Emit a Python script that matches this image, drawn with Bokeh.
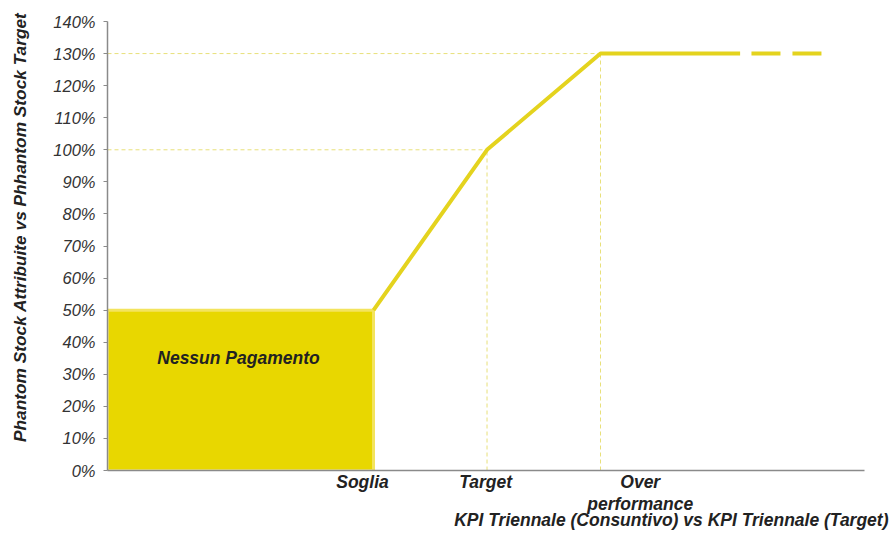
from bokeh.plotting import figure
from bokeh.models import Range1d, FixedTicker, NumeralTickFormatter, Label, Title
from bokeh.embed import file_html
from bokeh.resources import INLINE

# Payout curve: KPI thresholds (x) and phantom stock attributed vs target (y)
threshold_names = ["Soglia", "Target", "Over\nperformance"]
threshold_x = [1.0, 2.0, 3.0]
payout = [0.5, 1.0, 1.3]
# where each threshold name sits under the axis
threshold_label_x = [0.903, 1.987, 3.35]

# Cap plateau continues solid, then dashed
plateau_solid_end = 4.23
plateau_dashed_x = [4.33, 4.97]

# "No payment" zone below the threshold
no_pay_bottom = [0.0]
no_pay_top = [0.5]

y_ticks = [i / 10 for i in range(15)]

X_START, X_END = -1.344, 5.326
Y_START, Y_END = 0.0, 1.4

FONT = "Liberation Sans"
YELLOW_FILL = "#E8D700"
YELLOW_EDGE = "#F3E45E"
YELLOW_LINE = "#E4D31E"
GUIDE = "#E8E07A"
GRAY = "#8a8a8a"
DARK = "#222222"
LABEL_SIZE = "17.5px"

p = figure(width=892, height=538, output_backend="svg", toolbar_location=None,
           x_range=Range1d(X_START, X_END), y_range=Range1d(Y_START, Y_END),
           min_border_left=107, min_border_right=28, min_border_top=21,
           min_border_bottom=68)
p.outline_line_color = None
p.grid.visible = False
p.background_fill_color = "white"
p.border_fill_color = "white"

# Y axis
p.yaxis.ticker = FixedTicker(ticks=y_ticks)
p.yaxis.formatter = NumeralTickFormatter(format="0%")
p.yaxis.axis_line_color = GRAY
p.yaxis.axis_line_width = 1.5
p.yaxis.major_tick_line_color = GRAY
p.yaxis.major_tick_out = 4
p.yaxis.major_tick_in = 0
p.yaxis.minor_tick_line_color = None
p.yaxis.major_label_text_font = FONT
p.yaxis.major_label_text_font_style = "italic"
p.yaxis.major_label_text_font_size = "16.5px"
p.yaxis.major_label_text_color = "#333333"
p.yaxis.major_label_standoff = 8

# X axis: line with the threshold names as labels
p.xaxis.ticker = FixedTicker(ticks=threshold_label_x)
p.xaxis.major_label_overrides = {x: n for x, n in zip(threshold_label_x, threshold_names)}
p.xaxis.axis_line_color = GRAY
p.xaxis.axis_line_width = 1.5
p.xaxis.major_tick_line_color = None
p.xaxis.major_tick_out = 0
p.xaxis.major_tick_in = 0
p.xaxis.minor_tick_line_color = None
p.xaxis.major_label_text_font = FONT
p.xaxis.major_label_text_font_style = "bold italic"
p.xaxis.major_label_text_font_size = LABEL_SIZE
p.xaxis.major_label_text_color = DARK
p.xaxis.major_label_text_line_height = 1.1
p.xaxis.major_label_standoff = 1

# No-payment zone
p.quad(left=[X_START], right=[threshold_x[0]], bottom=no_pay_bottom, top=no_pay_top,
       fill_color=YELLOW_FILL, line_color=YELLOW_EDGE, line_width=3)

# Dashed guides from the y axis to the target / over-performance points
for xv, yv in zip(threshold_x[1:], payout[1:]):
    p.line([X_START, xv], [yv, yv], line_color=GUIDE, line_width=1, line_dash="4 3")
    p.line([xv, xv], [Y_START, yv], line_color=GUIDE, line_width=1, line_dash="4 3")

# Payout curve
p.line(threshold_x + [plateau_solid_end], payout + [payout[-1]],
       line_color=YELLOW_LINE, line_width=4)
p.line(plateau_dashed_x, [payout[-1]] * 2, line_color=YELLOW_LINE, line_width=4,
       line_dash="29 12")

# Zone label
p.add_layout(Label(x=-0.19, y=0.352, text="Nessun Pagamento", text_font=FONT,
                   text_font_style="bold italic", text_font_size=LABEL_SIZE,
                   text_color=DARK, text_align="center", text_baseline="middle"))

# Axis titles
p.add_layout(Title(text="KPI Triennale (Consuntivo) vs KPI Triennale (Target)",
                   align="right", offset=-24, vertical_align="top", standoff=-14,
                   text_font=FONT, text_font_style="bold italic",
                   text_font_size=LABEL_SIZE, text_color=DARK), "below")
p.add_layout(Title(text="Phantom Stock Attribuite vs Phhantom Stock Target\n ",
                   align="right", offset=-9, vertical_align="top", standoff=-2,
                   text_font=FONT, text_font_style="bold italic",
                   text_font_size="17.3px", text_color=DARK), "left")

open("out.html", "w").write(file_html(p, INLINE))
